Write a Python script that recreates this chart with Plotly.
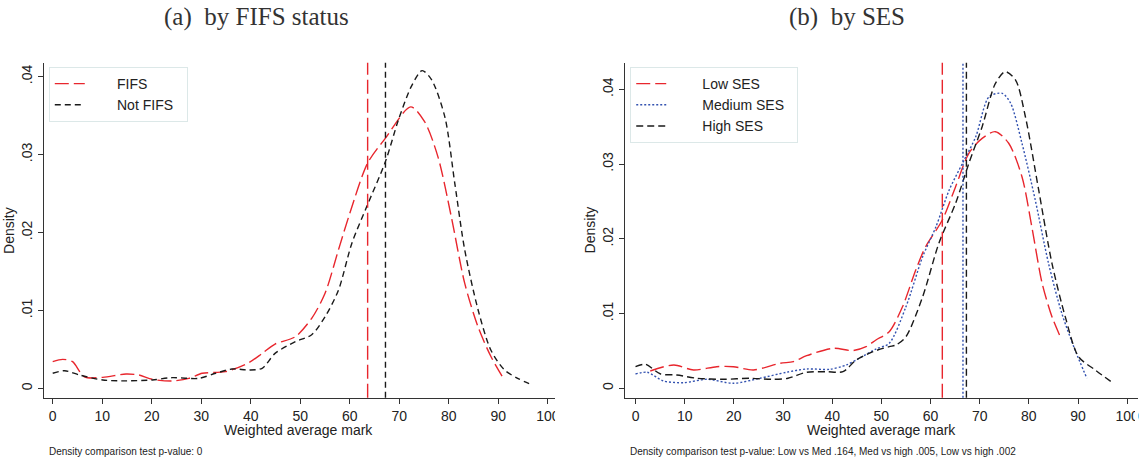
import plotly.graph_objects as go

W, H = 1143, 458

# ---------------- data ----------------
# Panel (a): by FIFS status
fifs_x = [0, 2.0, 4.0, 6.4, 10.1, 14.8, 17.4, 20.1, 24.1, 27.5, 30.2, 34.9, 39.6, 42.3, 44.9,
          49.0, 52.3, 55.0, 57.7, 60.0, 63.6, 67.2, 72.3, 75.1, 77.8, 80.5, 83.2, 85.9, 88.5, 91.2]
fifs_y = [0.00344, 0.00374, 0.00344, 0.0015, 0.00143, 0.00186, 0.00173, 0.00118, 0.00096, 0.0013,
          0.00195, 0.00216, 0.00331, 0.0045, 0.0057, 0.00664, 0.0090, 0.0122, 0.01776, 0.02246,
          0.0289, 0.0321, 0.0361, 0.0342, 0.0297, 0.0220, 0.0135, 0.0079, 0.0041, 0.0011]

notfifs_x = [0, 2.4, 5.4, 10.1, 14.8, 20.1, 24.1, 29.5, 32.9, 36.2, 39.6, 42.3, 44.9, 49.0, 52.3,
             55.0, 57.7, 60.4, 63.4, 67.2, 69.8, 72.4, 74.6, 76.5, 79.2, 81.2, 83.2, 85.9, 88.5,
             91.2, 93.9, 96.9]
notfifs_y = [0.00195, 0.00228, 0.00173, 0.00109, 0.00098, 0.00109, 0.00139, 0.0013, 0.00195,
             0.0025, 0.00237, 0.00259, 0.0045, 0.0060, 0.0069, 0.0092, 0.0126, 0.0186, 0.0233,
             0.0291, 0.0344, 0.0387, 0.04075, 0.0396, 0.0348, 0.0263, 0.0178, 0.0101, 0.0049,
             0.0024, 0.0013, 0.00045]

means_a = {"FIFS": 63.6, "Not FIFS": 67.2}

# Panel (b): by SES
low_x = [3.0, 7.8, 11.8, 16.5, 19.9, 24.0, 29.4, 32.1, 34.8, 40.2, 44.2, 46.9, 48.9, 51.6, 54.3,
         57.0, 59.0, 62.4, 65.1, 67.8, 70.5, 73.2, 75.9, 78.6, 80.6, 82.7, 84.7, 86.4]
low_y = [0.00231, 0.00312, 0.00245, 0.00289, 0.00289, 0.00245, 0.00334, 0.00356, 0.00436,
         0.00535, 0.00505, 0.00557, 0.00646, 0.00757, 0.0109, 0.01583, 0.01894, 0.02251,
         0.02697, 0.03144, 0.03344, 0.03433, 0.03278, 0.02831, 0.02162, 0.01405, 0.00958, 0.0069]

med_x = [0, 2.4, 5.7, 9.8, 14.5, 19.9, 25.3, 30.7, 34.8, 39.5, 42.9, 45.5, 48.9, 51.6, 55.0,
         58.4, 61.1, 63.8, 66.5, 69.2, 71.9, 74.6, 76.3, 78.6, 81.3, 84.0, 86.7, 89.4, 91.8]
med_y = [0.00191, 0.00214, 0.00098, 0.00075, 0.0012, 0.00067, 0.00134, 0.00214, 0.00258,
         0.00254, 0.00312, 0.00401, 0.00525, 0.00602, 0.0109, 0.0176, 0.0216, 0.02653, 0.0301,
         0.03366, 0.0390, 0.03946, 0.03813, 0.03278, 0.02519, 0.01672, 0.01003, 0.00512, 0.00134]

high_x = [0, 2.0, 5.1, 8.4, 12.5, 17.9, 23.3, 28.0, 31.0, 34.8, 38.8, 42.2, 44.9, 48.3, 51.6,
          53.0, 55.0, 58.4, 61.7, 65.1, 67.8, 70.5, 73.2, 75.2, 77.3, 79.3, 82.0, 84.7, 87.4,
          90.1, 93.5, 97.2]
high_y = [0.00289, 0.00321, 0.00191, 0.00178, 0.00134, 0.0012, 0.00134, 0.0012, 0.00134,
          0.00214, 0.00222, 0.00222, 0.00379, 0.0049, 0.00557, 0.0058, 0.0069, 0.01225, 0.0194,
          0.02475, 0.0301, 0.035, 0.0408, 0.04236, 0.04124, 0.03633, 0.02653, 0.01672, 0.00958,
          0.00423, 0.00245, 0.00067]

means_b = {"Low SES": 62.4, "Medium SES": 66.6, "High SES": 67.3}

x_ticks = [0, 10, 20, 30, 40, 50, 60, 70, 80, 90, 100]
y_ticks = [0, 0.01, 0.02, 0.03, 0.04]
y_ticktext = ["0", ".01", ".02", ".03", ".04"]

# ---------------- styles ----------------
RED = "#e8262d"
BLACK = "#1a1a1a"
BLUE = "#3352b0"
style = {
    "FIFS": dict(color=RED, dash="14px,5px"),
    "Not FIFS": dict(color=BLACK, dash="6px,4px"),
    "Low SES": dict(color=RED, dash="14px,5px"),
    "Medium SES": dict(color=BLUE, dash="2px,2px"),
    "High SES": dict(color=BLACK, dash="7px,4px"),
}
FONT = "Liberation Sans, Arial, sans-serif"
NB = "\u00a0"

fig = go.Figure()

def add_curve(x, y, name, xa, ya, legend, lead, trail):
    st = style[name]
    fig.add_trace(go.Scatter(
        x=x, y=y, mode="lines", name=NB * lead + name + NB * trail,
        xaxis=xa, yaxis=ya, legend=legend,
        line=dict(color=st["color"], dash=st["dash"], width=1.4, shape="spline", smoothing=0.8),
        hoverinfo="skip"))

add_curve(fifs_x, fifs_y, "FIFS", "x", "y", "legend", 7, 2)
add_curve(notfifs_x, notfifs_y, "Not FIFS", "x", "y", "legend", 7, 2)
add_curve(low_x, low_y, "Low SES", "x2", "y2", "legend2", 8, 2)
add_curve(med_x, med_y, "Medium SES", "x2", "y2", "legend2", 8, 2)
add_curve(high_x, high_y, "High SES", "x2", "y2", "legend2", 8, 2)

for name, m in means_a.items():
    st = style[name]
    fig.add_shape(type="line", xref="x", yref="y domain", x0=m, x1=m, y0=0, y1=1,
                  line=dict(color=st["color"], dash=st["dash"], width=1.4))
for name, m in means_b.items():
    st = style[name]
    fig.add_shape(type="line", xref="x2", yref="y2 domain", x0=m, x1=m, y0=0, y1=1,
                  line=dict(color=st["color"], dash=st["dash"], width=1.4))

def px(v):
    return v / W

def py(v):
    return 1 - v / H

ydom = [py(397.7), py(62.7)]

axis_common = dict(
    showgrid=False, zeroline=False, showline=True, linecolor="#333", linewidth=1,
    ticks="outside", ticklen=5, tickcolor="#333", tickwidth=1,
    tickfont=dict(family=FONT, size=14, color="#222"),
)

legend_common = dict(xanchor="left", yanchor="top", bordercolor="#dce8e8", borderwidth=1,
                     bgcolor="white", font=dict(family=FONT, size=14, color="#222"),
                     tracegroupgap=0)

fig.update_layout(
    width=W, height=H, margin=dict(l=0, r=0, t=0, b=0),
    plot_bgcolor="white", paper_bgcolor="white",
    xaxis=dict(domain=[px(44), px(557)], range=[-1.8, 101.35], tickvals=x_ticks,
               anchor="y", **axis_common),
    yaxis=dict(domain=ydom, range=[-0.00118, 0.04177], tickvals=y_ticks, ticktext=y_ticktext,
               tickangle=-90, anchor="x", **axis_common),
    xaxis2=dict(domain=[px(627.3), 1.0], range=[-2.23, 102.2], tickvals=x_ticks,
                anchor="y2", **axis_common),
    yaxis2=dict(domain=ydom, range=[-0.00126, 0.04356], tickvals=y_ticks, ticktext=y_ticktext,
                tickangle=-90, anchor="x2", **axis_common),
    legend=dict(x=px(49), y=py(67), **legend_common),
    legend2=dict(x=px(633), y=py(67), **legend_common),
    showlegend=True,
)

# clip the half-visible "100" labels at the panel edges
fig.add_shape(type="rect", xref="paper", yref="paper", x0=px(557.5), x1=px(578),
              y0=py(425), y1=py(399), fillcolor="white", line=dict(width=0), layer="above")
fig.add_shape(type="rect", xref="paper", yref="paper", x0=px(1140), x1=1.0,
              y0=py(425), y1=py(399), fillcolor="white", line=dict(width=0), layer="above")

ann_font = dict(family=FONT, size=14, color="#222")
title_font = dict(family="Liberation Serif, Times New Roman, serif", size=25, color="#333")
anns = [
    dict(text="(a)\u00a0 by FIFS status", x=px(258), y=py(17), font=title_font),
    dict(text="(b)\u00a0 by SES", x=px(851), y=py(17), font=title_font),
    dict(text="Weighted average mark", x=px(300), y=py(430), font=ann_font),
    dict(text="Weighted average mark", x=px(885), y=py(430), font=ann_font),
    dict(text="Density", x=px(9), y=py(230), textangle=-90, font=ann_font),
    dict(text="Density", x=px(593), y=py(230), textangle=-90, font=ann_font),
]
for a in anns:
    fig.add_annotation(xref="paper", yref="paper", showarrow=False,
                       xanchor="center", yanchor="middle", **a)
fig.add_annotation(xref="paper", yref="paper", showarrow=False, xanchor="left", yanchor="middle",
                   x=px(47), y=py(451), text="Density comparison test p-value: 0",
                   font=dict(family=FONT, size=10, color="#222"))
fig.add_annotation(xref="paper", yref="paper", showarrow=False, xanchor="left", yanchor="middle",
                   x=px(631), y=py(451),
                   text="Density comparison test p-value: Low vs Med .164, Med vs high .005, Low vs high .002",
                   font=dict(family=FONT, size=10, color="#222"))

fig.write_html("out.html")
